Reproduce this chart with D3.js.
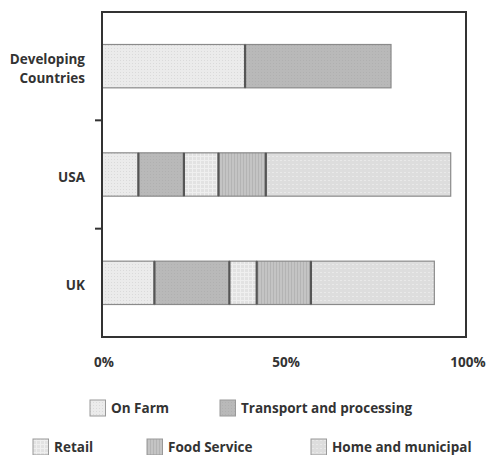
<!DOCTYPE html>
<html><head><meta charset="utf-8">
<script src="https://cdn.jsdelivr.net/npm/d3@7"></script>
<style>body{margin:0;background:#fff}svg{display:block}</style>
</head><body>
<script>
const categories = ["Developing Countries", "USA", "UK"];
const seriesNames = ["On Farm", "Transport and processing", "Retail", "Food Service", "Home and municipal"];
const onFarm = [39.3, 10.0, 14.4];
const transport = [40.1, 12.5, 20.6];
const retail = [0, 9.5, 7.5];
const foodService = [0, 13.0, 14.9];
const home = [0, 50.8, 33.9];
const xTicks = [0, 50, 100];
const xTickLabels = ["0%", "50%", "100%"];

const W = 487, H = 455;
const svg = d3.select("body").append("svg").attr("width", W).attr("height", H);
const defs = svg.append("defs");
const font = "'Open Sans', sans-serif";

// patterns
function pat(id, size, bg, draw) {
  const p = defs.append("pattern").attr("id", id).attr("patternUnits", "userSpaceOnUse")
    .attr("width", size).attr("height", size);
  p.append("rect").attr("width", size).attr("height", size).attr("fill", bg);
  draw(p);
}
pat("p0", 3, "#ebebeb", p => p.append("rect").attr("width", 1).attr("height", 1).attr("fill", "#dadada"));
pat("p1", 3, "#b9b9b9", p => p.append("rect").attr("width", 1).attr("height", 1).attr("fill", "#b0b0b0"));
pat("p2", 4, "#e2e2e2", p => {
  p.append("rect").attr("width", 4).attr("height", 1).attr("fill", "#efefef");
  p.append("rect").attr("width", 1).attr("height", 4).attr("fill", "#efefef");
});
pat("p3", 3, "#c4c4c4", p => p.append("rect").attr("width", 1).attr("height", 3).attr("fill", "#b4b4b4"));
pat("p4", 4, "#dddddd", p => p.append("rect").attr("width", 2).attr("height", 1).attr("fill", "#e9e9e9"));
const fills = ["url(#p0)", "url(#p1)", "url(#p2)", "url(#p3)", "url(#p4)"];

const L = 102, R = 466, T = 12, B = 337;
const x = d3.scaleLinear().domain([0, 100]).range([L, R]);
const y = d3.scaleBand().domain(categories).range([T, B]).paddingInner(0.6).paddingOuter(0.3);

const data = categories.map((c, i) => ({cat: c, vals: [onFarm[i], transport[i], retail[i], foodService[i], home[i]]}));

const g = svg.append("g");
data.forEach(d => {
  let acc = 0;
  const segs = d.vals.map((v, k) => { const s = {k, x0: acc, x1: acc + v}; acc += v; return s; }).filter(s => s.x1 > s.x0);
  const yb = y(d.cat), bh = y.bandwidth();
  g.selectAll(null).data(segs).enter().append("rect")
    .attr("x", s => x(s.x0)).attr("y", yb).attr("width", s => x(s.x1) - x(s.x0)).attr("height", bh)
    .attr("fill", s => fills[s.k]).attr("stroke", "#8a8a8a").attr("stroke-width", 1.2);
  g.selectAll(null).data(segs.slice(1)).enter().append("line")
    .attr("x1", s => x(s.x0)).attr("x2", s => x(s.x0)).attr("y1", yb).attr("y2", yb + bh)
    .attr("stroke", "#555").attr("stroke-width", 2.2);
});

// frame
svg.append("rect").attr("x", L).attr("y", T).attr("width", R - L).attr("height", B - T)
  .attr("fill", "none").attr("stroke", "#333").attr("stroke-width", 2);

// y tick marks between categories
const step = y.step();
const boundaries = categories.slice(1).map(c => y(c) - step * y.paddingInner() / 2);
svg.selectAll(null).data(boundaries).enter().append("line")
  .attr("x1", L - 7).attr("x2", L).attr("y1", d => d).attr("y2", d => d)
  .attr("stroke", "#333").attr("stroke-width", 2);

// category labels (one text element per line)
const fs = 13.5;
const lh = 18.5;
categories.forEach(c => {
  const words = c.split(" ");
  const cy = y(c) + y.bandwidth() / 2;
  words.forEach((w, i) => {
    svg.append("text").attr("text-anchor", "end").attr("font-family", font).attr("font-weight", "bold")
      .attr("font-size", fs).attr("fill", "#333")
      .attr("x", 85).attr("y", cy + 7.5 + (i - (words.length - 1) / 2) * lh).text(w);
  });
});

// x tick labels
svg.selectAll(null).data(xTicks).enter().append("text")
  .attr("x", d => x(d) + 2).attr("y", 366.5).attr("text-anchor", "middle")
  .attr("font-family", font).attr("font-weight", "bold").attr("font-size", fs).attr("fill", "#333")
  .text((d, i) => xTickLabels[i]);

// legend
const legendPos = [[90, 408], [220, 408], [33, 447], [147, 447], [311, 447]];
seriesNames.forEach((n, i) => {
  const [lx, ly] = legendPos[i];
  svg.append("rect").attr("x", lx).attr("y", ly - 8).attr("width", 15.5).attr("height", 16)
    .attr("fill", fills[i]).attr("stroke", "#999").attr("stroke-width", 1);
  svg.append("text").attr("x", lx + 21).attr("y", ly + 5).attr("font-family", font).attr("font-weight", "bold")
    .attr("font-size", fs).attr("fill", "#333").text(n);
});
</script>
</body></html>
